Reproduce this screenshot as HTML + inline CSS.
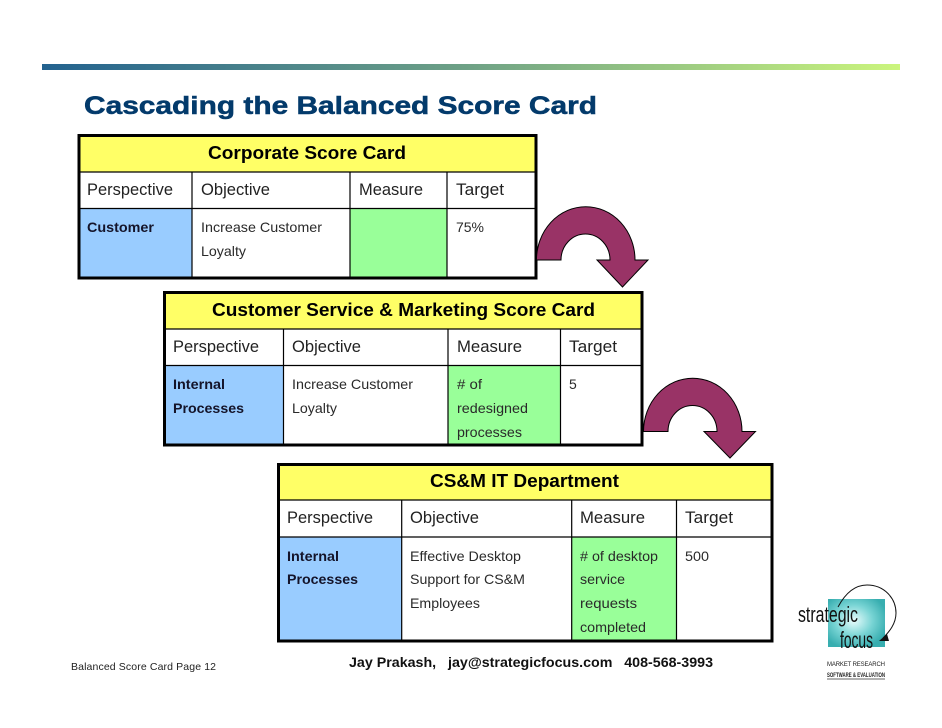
<!DOCTYPE html>
<html><head><meta charset="utf-8"><style>
html,body{margin:0;padding:0;background:#fff}
svg{display:block}
text{font-family:"Liberation Sans",sans-serif;fill:#111}
.h{font-size:18.500px;font-weight:bold;fill:#000}
.c{font-size:16.300px;fill:#222}
.s{font-size:14px;fill:#2a2a2a}
.b{font-size:14px;font-weight:bold;fill:#14142a}
</style></head><body>
<svg width="942" height="728" viewBox="0 0 942 728" xmlns="http://www.w3.org/2000/svg">
<defs>
<linearGradient id="bar"><stop offset="0" stop-color="#23628f"/><stop offset=".5" stop-color="#6fa286"/><stop offset="1" stop-color="#cbf57d"/></linearGradient>
<radialGradient id="teal" cx=".45" cy=".45" r=".6"><stop offset="0" stop-color="#e8fcfc"/><stop offset=".55" stop-color="#78d4d4"/><stop offset="1" stop-color="#38aeb0"/></radialGradient>
</defs>
<rect width="942" height="728" fill="#fff"/>
<rect x="42" y="64" width="858" height="6" fill="url(#bar)"/>
<text x="84" y="114" font-size="25" font-weight="bold" style="fill:#033a6b;stroke:#033a6b;stroke-width:.5" textLength="513" lengthAdjust="spacingAndGlyphs">Cascading the Balanced Score Card</text>

<!-- Table 1 -->
<rect x="79" y="136" width="457" height="36" fill="#ffff66"/>
<rect x="80" y="208" width="112" height="69" fill="#99ccff"/>
<rect x="350" y="208" width="97" height="69" fill="#99ff99"/>
<g stroke="#000" stroke-width="1.200"><path d="M79 172H536M79 208.500H536M192 172V278M350 172V278M447 172V278" fill="none"/></g>
<rect x="79" y="135.500" width="457" height="142.500" fill="none" stroke="#000" stroke-width="3"/>
<text class="h" x="208" y="159" textLength="198" lengthAdjust="spacingAndGlyphs">Corporate Score Card</text>
<text class="c" x="87" y="195" textLength="86" lengthAdjust="spacingAndGlyphs">Perspective</text>
<text class="c" x="201" y="195" textLength="69" lengthAdjust="spacingAndGlyphs">Objective</text>
<text class="c" x="359" y="195" textLength="64" lengthAdjust="spacingAndGlyphs">Measure</text>
<text class="c" x="456" y="195" textLength="48" lengthAdjust="spacingAndGlyphs">Target</text>
<text class="b" x="87" y="232" textLength="67" lengthAdjust="spacingAndGlyphs">Customer</text>
<text class="s" x="201" y="232" textLength="121" lengthAdjust="spacingAndGlyphs">Increase Customer</text>
<text class="s" x="201" y="256" textLength="45" lengthAdjust="spacingAndGlyphs">Loyalty</text>
<text class="s" x="456" y="232" textLength="28" lengthAdjust="spacingAndGlyphs">75%</text>

<!-- Table 2 -->
<rect x="165" y="293" width="477" height="36" fill="#ffff66"/>
<rect x="165" y="365" width="118" height="80" fill="#99ccff"/>
<rect x="448" y="365" width="112" height="80" fill="#99ff99"/>
<g stroke="#000" stroke-width="1.200"><path d="M165 329H642M165 365.500H642M283.500 329V445M448 329V445M560.500 329V445" fill="none"/></g>
<rect x="164.500" y="292.500" width="477.500" height="152.500" fill="none" stroke="#000" stroke-width="3"/>
<text class="h" x="212" y="316" textLength="383" lengthAdjust="spacingAndGlyphs">Customer Service &amp; Marketing Score Card</text>
<text class="c" x="173" y="352" textLength="86" lengthAdjust="spacingAndGlyphs">Perspective</text>
<text class="c" x="292" y="352" textLength="69" lengthAdjust="spacingAndGlyphs">Objective</text>
<text class="c" x="457" y="352" textLength="65" lengthAdjust="spacingAndGlyphs">Measure</text>
<text class="c" x="569" y="352" textLength="48" lengthAdjust="spacingAndGlyphs">Target</text>
<text class="b" x="173" y="389" textLength="52" lengthAdjust="spacingAndGlyphs">Internal</text>
<text class="b" x="173" y="413" textLength="71" lengthAdjust="spacingAndGlyphs">Processes</text>
<text class="s" x="292" y="389" textLength="121" lengthAdjust="spacingAndGlyphs">Increase Customer</text>
<text class="s" x="292" y="413" textLength="45" lengthAdjust="spacingAndGlyphs">Loyalty</text>
<text class="s" x="457" y="389" textLength="25" lengthAdjust="spacingAndGlyphs"># of</text>
<text class="s" x="457" y="413" textLength="71" lengthAdjust="spacingAndGlyphs">redesigned</text>
<text class="s" x="457" y="437" textLength="65" lengthAdjust="spacingAndGlyphs">processes</text>
<text class="s" x="569" y="389">5</text>

<!-- Table 3 -->
<rect x="279" y="465" width="493" height="35" fill="#ffff66"/>
<rect x="279" y="537" width="123" height="104" fill="#99ccff"/>
<rect x="572" y="537" width="104" height="104" fill="#99ff99"/>
<g stroke="#000" stroke-width="1.200"><path d="M279 500H772M279 537H772M401.700 500V641M571.700 500V641M676.500 500V641" fill="none"/></g>
<rect x="278.500" y="464.500" width="493.500" height="176.500" fill="none" stroke="#000" stroke-width="3"/>
<text class="h" x="430" y="487" textLength="189" lengthAdjust="spacingAndGlyphs">CS&amp;M IT Department</text>
<text class="c" x="287" y="523" textLength="86" lengthAdjust="spacingAndGlyphs">Perspective</text>
<text class="c" x="410" y="523" textLength="69" lengthAdjust="spacingAndGlyphs">Objective</text>
<text class="c" x="580" y="523" textLength="65" lengthAdjust="spacingAndGlyphs">Measure</text>
<text class="c" x="685" y="523" textLength="48" lengthAdjust="spacingAndGlyphs">Target</text>
<text class="b" x="287" y="561" textLength="52" lengthAdjust="spacingAndGlyphs">Internal</text>
<text class="b" x="287" y="584" textLength="71" lengthAdjust="spacingAndGlyphs">Processes</text>
<text class="s" x="410" y="561" textLength="111" lengthAdjust="spacingAndGlyphs">Effective Desktop</text>
<text class="s" x="410" y="584" textLength="115" lengthAdjust="spacingAndGlyphs">Support for CS&amp;M</text>
<text class="s" x="410" y="608" textLength="70" lengthAdjust="spacingAndGlyphs">Employees</text>
<text class="s" x="580" y="561" textLength="78" lengthAdjust="spacingAndGlyphs"># of desktop</text>
<text class="s" x="580" y="584" textLength="45" lengthAdjust="spacingAndGlyphs">service</text>
<text class="s" x="580" y="608" textLength="57" lengthAdjust="spacingAndGlyphs">requests</text>
<text class="s" x="580" y="632" textLength="66" lengthAdjust="spacingAndGlyphs">completed</text>
<text class="s" x="685" y="561" textLength="24" lengthAdjust="spacingAndGlyphs">500</text>

<!-- Arrows -->
<path d="M536.500 260A49 53 0 0 1 635 260H648L622.500 287L597 260H610A24.500 26 0 0 0 561 260Z" fill="#993366" stroke="#000" stroke-width="1"/>
<path d="M643.500 431.500A49 53 0 0 1 742 431.500H755.500L730 458L704 431.500H717A24.500 26 0 0 0 668 431.500Z" fill="#993366" stroke="#000" stroke-width="1"/>

<!-- Footer -->
<text x="71" y="670" font-size="10.500" style="fill:#222" textLength="145" lengthAdjust="spacing">Balanced Score Card Page 12</text>
<text x="349" y="667" font-size="13.500" font-weight="bold" style="fill:#111;white-space:pre" xml:space="preserve" textLength="364" lengthAdjust="spacingAndGlyphs">Jay Prakash,   jay@strategicfocus.com   408-568-3993</text>

<!-- Logo -->
<rect x="828" y="599" width="57" height="48" fill="url(#teal)"/>
<path d="M838 607C846 592 856 585 867 585C884 585 896 598 896 613C896 624 889 632 883 638" fill="none" stroke="#111" stroke-width="1"/>
<path d="M887 634L889 641L879 641Z" fill="#111"/>
<text x="798" y="622" font-size="22" style="fill:#111" textLength="60" lengthAdjust="spacingAndGlyphs">strategic</text>
<text x="840" y="648" font-size="23" style="fill:#111" textLength="33" lengthAdjust="spacingAndGlyphs">focus</text>
<text x="827" y="666" font-size="6" style="fill:#222" textLength="58" lengthAdjust="spacing">MARKET RESEARCH</text>
<text x="827" y="677" font-size="6" font-weight="bold" style="fill:#222" textLength="58" lengthAdjust="spacingAndGlyphs">SOFTWARE &amp; EVALUATION</text>
<path d="M827 679H885" stroke="#333" stroke-width=".7"/>
</svg>
</body></html>
